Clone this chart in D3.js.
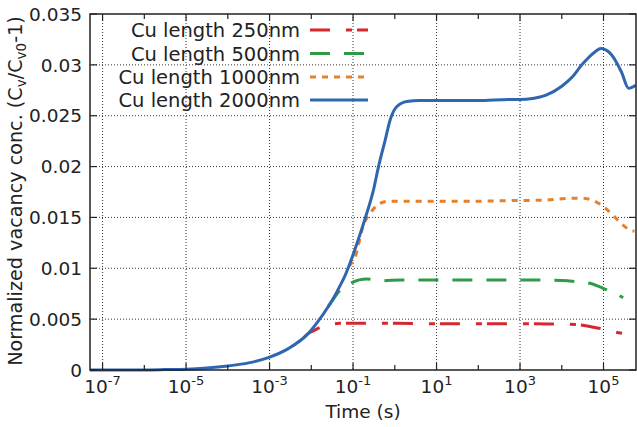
<!DOCTYPE html>
<html lang="en">
<head>
  <meta charset="UTF-8" />
  <title>Normalized vacancy concentration</title>
  <script src="https://d3js.org/d3.v7.min.js"></script>
  <style>
    body { margin: 0; background: #fff; }
    svg { font-family: "DejaVu Sans", sans-serif; }
    .grid { stroke: #333; stroke-width: 1; stroke-dasharray: 1,2; fill: none; }
    .tick-mark { stroke: #222; stroke-width: 1.2; }
    .series { fill: none; stroke-width: 3; }
  </style>
</head>
<body>
  <svg id="chart" width="637" height="427"></svg>

  <script>
    // series data: log10(time) and normalized vacancy conc.
    const logT250 = [-2.2, -2.07, -1.95, -1.72, -1.5, -1.32, -1, 0, 1, 2, 3, 4, 4.33, 4.5, 4.76, 5.02, 5.2, 5.45];
    const v250 = [0.0031, 0.0036, 0.00385, 0.00433, 0.0045, 0.00459, 0.0046, 0.0046, 0.00455, 0.00455, 0.00455, 0.0045, 0.00448, 0.0044, 0.0042, 0.004, 0.0038, 0.0036];

    const logT500 = [-1.6, -1.45, -1.3, -1.03, -0.68, -0.32, 0.16, 1, 2, 3, 4, 4.33, 4.7, 4.9, 5.07, 5.3, 5.47];
    const v500 = [0.0062, 0.0071, 0.0079, 0.0086, 0.00895, 0.00878, 0.00885, 0.00885, 0.00885, 0.00885, 0.0088, 0.0087, 0.0085, 0.0082, 0.0079, 0.0075, 0.0071];

    const logT1000 = [-1.1, -0.95, -0.75, -0.59, -0.39, -0.15, 0.5, 1, 2, 2.7, 3.6, 3.93, 4.2, 4.48, 4.76, 5.0, 5.22, 5.42, 5.67, 5.74];
    const v1000 = [0.0102, 0.0111, 0.01425, 0.0154, 0.0163, 0.0166, 0.0166, 0.0166, 0.0166, 0.01665, 0.0167, 0.0168, 0.01688, 0.0169, 0.01665, 0.01606, 0.01524, 0.01442, 0.0137, 0.01365];

    const logT2000 = [-7.3, -6, -5.5, -5, -4.5, -4, -3.5, -3.03, -2.55, -2.07, -1.83, -1.6, -1.45, -1.31, -1.2, -1.11, -0.91, -0.71, -0.51, -0.39, -0.23, -0.11, 0.05, 0.29, 0.6, 1, 2, 2.74, 3, 3.3, 3.61, 4, 4.25, 4.48, 4.8, 4.94, 5.19, 5.43, 5.6, 5.77];
    const v2000 = [0, 0.00001, 0.00004, 0.00008, 0.0002, 0.0004, 0.0007, 0.00122, 0.0021, 0.0036, 0.00482, 0.0062, 0.0072, 0.0083, 0.0092, 0.0101, 0.0124, 0.0149, 0.0177, 0.02, 0.0226, 0.0246, 0.0259, 0.0264, 0.0265, 0.0265, 0.0265, 0.0266, 0.0266, 0.0267, 0.027, 0.0279, 0.0288, 0.03, 0.0313, 0.0316, 0.031, 0.0293, 0.0277, 0.028];

    const seriesNames = ["Cu length 250nm", "Cu length 500nm", "Cu length 1000nm", "Cu length 2000nm"];
    const seriesColors = ["#d62630", "#2e9c47", "#e5802c", "#2f66b0"];
    const seriesDash = ["20 16 6 5", "20 14", "6 6", null];

    const yTicks = [0, 0.005, 0.01, 0.015, 0.02, 0.025, 0.03, 0.035];
    const xLabelExps = [-7, -5, -3, -1, 1, 3, 5];
    const xMinorExps = [-6, -4, -2, 0, 2, 4];

    const svg = d3.select("#chart");
    const plot = { left: 90, right: 636, top: 14, bottom: 370 };

    const x = d3.scaleLog().domain([5e-8, 6e5]).range([plot.left, plot.right]);
    const y = d3.scaleLinear().domain([0, 0.035]).range([plot.bottom, plot.top]);

    // grid
    const grid = svg.append("g");
    grid.selectAll("line.gx")
      .data(xLabelExps)
      .join("line")
      .attr("class", "grid")
      .attr("x1", d => x(Math.pow(10, d))).attr("x2", d => x(Math.pow(10, d)))
      .attr("y1", plot.top).attr("y2", plot.bottom);
    grid.selectAll("line.gy")
      .data(yTicks.slice(1, -1))
      .join("line")
      .attr("class", "grid")
      .attr("x1", plot.left).attr("x2", plot.right)
      .attr("y1", d => y(d)).attr("y2", d => y(d));

    // series
    const line = d3.line()
      .x(d => x(Math.pow(10, d[0])))
      .y(d => y(d[1]))
      .curve(d3.curveMonotoneX);

    const allT = [logT250, logT500, logT1000, logT2000];
    const allV = [v250, v500, v1000, v2000];

    allT.forEach((ts, i) => {
      const pts = ts.map((t, j) => [t, allV[i][j]]);
      svg.append("path")
        .datum(pts)
        .attr("class", "series")
        .attr("d", line)
        .attr("stroke", seriesColors[i])
        .attr("stroke-dasharray", seriesDash[i]);
    });

    // frame
    svg.append("rect")
      .attr("x", plot.left).attr("y", plot.top)
      .attr("width", plot.right - plot.left).attr("height", plot.bottom - plot.top)
      .attr("fill", "none").attr("stroke", "#222").attr("stroke-width", 1.5);

    // ticks (inward, mirrored)
    const ticks = svg.append("g");
    yTicks.forEach(v => {
      ticks.append("line").attr("class", "tick-mark")
        .attr("x1", plot.left).attr("x2", plot.left + 7).attr("y1", y(v)).attr("y2", y(v));
      ticks.append("line").attr("class", "tick-mark")
        .attr("x1", plot.right).attr("x2", plot.right - 7).attr("y1", y(v)).attr("y2", y(v));
    });
    xLabelExps.concat(xMinorExps).forEach(e => {
      const len = xLabelExps.includes(e) ? 7 : 5;
      const px = x(Math.pow(10, e));
      ticks.append("line").attr("class", "tick-mark")
        .attr("x1", px).attr("x2", px).attr("y1", plot.bottom).attr("y2", plot.bottom - len);
      ticks.append("line").attr("class", "tick-mark")
        .attr("x1", px).attr("x2", px).attr("y1", plot.top).attr("y2", plot.top + len);
    });

    // y tick labels
    svg.append("g").selectAll("text")
      .data(yTicks)
      .join("text")
      .attr("x", 82)
      .attr("y", d => y(d))
      .attr("dy", "0.36em")
      .attr("text-anchor", "end")
      .attr("font-size", 18.5)
      .attr("fill", "#222")
      .text(d => d3.format("")(d));

    // x tick labels 10^n
    const xl = svg.append("g").selectAll("text")
      .data(xLabelExps)
      .join("text")
      .attr("x", d => x(Math.pow(10, d)))
      .attr("y", 393)
      .attr("text-anchor", "middle")
      .attr("font-size", 18.5)
      .attr("fill", "#222");
    xl.append("tspan").text("10");
    xl.append("tspan").attr("font-size", 13).attr("dy", -8).text(d => d);

    // axis titles
    svg.append("text")
      .attr("x", (plot.left + plot.right) / 2)
      .attr("y", 418)
      .attr("text-anchor", "middle")
      .attr("font-size", 18.5)
      .attr("fill", "#222")
      .text("Time (s)");

    const yl = svg.append("text")
      .attr("transform", "translate(22,191) rotate(-90)")
      .attr("text-anchor", "middle")
      .attr("font-size", 19.2)
      .attr("fill", "#222");
    yl.append("tspan").text("Normalized vacancy conc. (C");
    yl.append("tspan").attr("font-size", 13.5).attr("dy", 4).text("v");
    yl.append("tspan").attr("dy", -4).text("/C");
    yl.append("tspan").attr("font-size", 13.5).attr("dy", 4).text("v0");
    yl.append("tspan").attr("dy", -4).text("-1)");

    // legend
    const legendY = [30, 53.5, 77, 100];
    const lg = svg.append("g");
    seriesNames.forEach((name, i) => {
      lg.append("text")
        .attr("x", 300)
        .attr("y", legendY[i])
        .attr("dy", "0.36em")
        .attr("text-anchor", "end")
        .attr("font-size", 19.5)
        .attr("fill", "#222")
        .text(name);
      lg.append("line")
        .attr("x1", 310).attr("x2", 368)
        .attr("y1", legendY[i]).attr("y2", legendY[i])
        .attr("stroke", seriesColors[i])
        .attr("stroke-width", 3)
        .attr("stroke-dasharray", seriesDash[i]);
    });
  </script>
</body>
</html>
